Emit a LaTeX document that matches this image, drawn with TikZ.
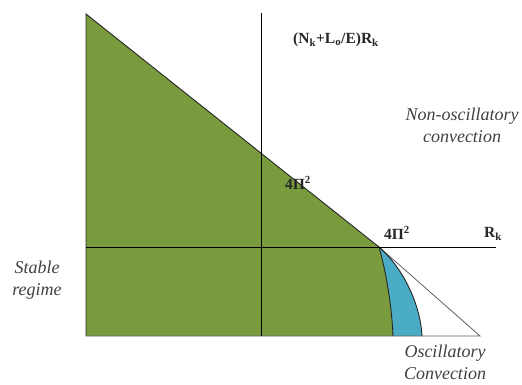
\documentclass[tikz,border=0pt]{standalone}
\usepackage{fontspec}
\setmainfont{Liberation Serif}
\usetikzlibrary{positioning,calc}
\definecolor{stablegreen}{HTML}{7A9A3E}
\definecolor{oscblue}{HTML}{4BACC6}
\definecolor{edgegray}{HTML}{606060}

\begin{document}
\begin{tikzpicture}[
    x=1pt,y=-1pt,
    axisline/.style={line width=1pt,color=black},
    edge/.style={line width=0.9pt,color=black!85},
    outline/.style={line width=0.8pt,color=edgegray},
    boldlabel/.style={font=\fontsize{15.5}{17}\selectfont\bfseries,text=black!85,inner sep=0pt},
    regionlabel/.style={font=\fontsize{18}{22}\selectfont\itshape,align=center,text=black!75,inner sep=0pt},
]
\useasboundingbox (0,0) rectangle (522,385);

% === Key points ===
\coordinate (top) at (86,14);
\coordinate (origin) at (86,336);
\coordinate (cross) at (379,247);
\coordinate (tip) at (480,336);
\coordinate (greenfoot) at (393,336);
\coordinate (bluefoot) at (422,336);

% === Regions ===
\fill[oscblue] (cross) .. controls (400,265) and (420,300) .. (bluefoot)
    -- (greenfoot) .. controls (392,310) and (387,275) .. (cross) -- cycle;
\fill[stablegreen] (top) -- (cross) .. controls (387,275) and (392,310) .. (greenfoot)
    -- (origin) -- cycle;

% === Outlines ===
\draw[outline] (cross) -- (tip) -- (origin);
\draw[edge] (origin) -- (top) -- (cross);
\draw[edge] (cross) .. controls (387,275) and (392,310) .. (greenfoot);
\draw[edge] (cross) .. controls (400,265) and (420,300) .. (bluefoot);

% === Axes ===
\coordinate (vtop) at (261,13);
\coordinate (vbot) at (261,336);
\coordinate (hleft) at (86,247);
\coordinate (hright) at (496,247);
\draw[axisline] (vtop) -- (vbot);
\draw[axisline] (hleft) -- (hright);

% === Labels ===
\node[boldlabel] (ylabel) at (336,40) {(N\textsubscript{k}+L\textsubscript{o}/E)R\textsubscript{k}};
\node[boldlabel] (ycut) at (298,183) {4Π\textsuperscript{2}};
\node[boldlabel] (xcut) at (397,233) {4Π\textsuperscript{2}};
\node[boldlabel] (xlabel) at (493,234) {R\textsubscript{k}};

\node[regionlabel] (nonosc) at (462,125) {Non-oscillatory\\convection};
\node[regionlabel] (stable) at (37,280) {Stable\\regime};
\node[regionlabel] (osc) at (445,362) {Oscillatory\\Convection};

\end{tikzpicture}
\end{document}
